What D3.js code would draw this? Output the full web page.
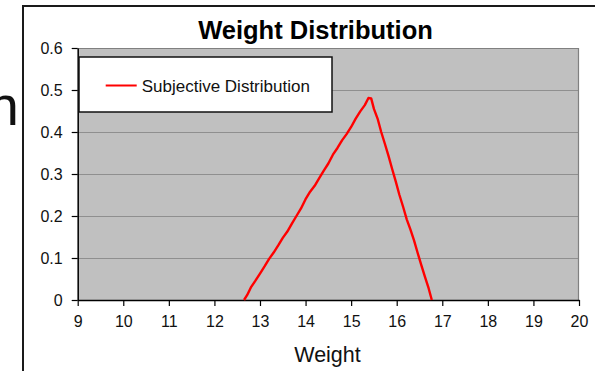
<!DOCTYPE html>
<html>
<head>
<meta charset="utf-8">
<script src="https://cdn.jsdelivr.net/npm/d3@7"></script>
<style>
  html, body { margin: 0; padding: 0; background: #fff; }
  svg { display: block; font-family: "Liberation Sans", Arial, sans-serif; }
</style>
</head>
<body>
<svg id="chart" width="595" height="371"></svg>
<script>
// Subjective weight distribution (triangular shape), read point by point
const weights = [12.65, 12.72, 12.80, 12.90, 13.00, 13.10, 13.20, 13.30, 13.40, 13.50,
                 13.60, 13.70, 13.80, 13.90, 14.00, 14.10, 14.20, 14.30, 14.40, 14.50,
                 14.60, 14.70, 14.80, 14.90, 15.00, 15.10, 15.20, 15.30, 15.38, 15.44,
                 15.50, 15.58, 15.66, 15.74, 15.82, 15.90, 15.98, 16.06, 16.14, 16.22,
                 16.30, 16.38, 16.46, 16.54, 16.62, 16.70, 16.77];
const density = [0.000, 0.012, 0.030, 0.046, 0.063, 0.080, 0.098, 0.113, 0.130, 0.148,
                 0.163, 0.182, 0.200, 0.218, 0.240, 0.258, 0.272, 0.290, 0.308, 0.325,
                 0.346, 0.362, 0.380, 0.395, 0.412, 0.432, 0.449, 0.464, 0.481, 0.480,
                 0.455, 0.432, 0.400, 0.372, 0.343, 0.312, 0.282, 0.250, 0.222, 0.192,
                 0.168, 0.142, 0.112, 0.083, 0.055, 0.028, 0.000];
const seriesName = "Subjective Distribution";
const xTicks = [9, 10, 11, 12, 13, 14, 15, 16, 17, 18, 19, 20];
const yTicks = [0, 0.1, 0.2, 0.3, 0.4, 0.5, 0.6];
const yTickLabels = ["0", "0.1", "0.2", "0.3", "0.4", "0.5", "0.6"];

const svg = d3.select("#chart");
const plot = { left: 77.7, right: 579, top: 48, bottom: 300 };

const x = d3.scaleLinear().domain([9, 20]).range([plot.left, plot.right]);
const y = d3.scaleLinear().domain([0, 0.6]).range([plot.bottom, plot.top]);

// Fragment of the slide text behind the chart
svg.append("text")
  .attr("x", 19).attr("y", 125)
  .attr("text-anchor", "end")
  .attr("font-size", 56)
  .attr("fill", "#111")
  .text("n");

// Chart frame
svg.append("rect")
  .attr("x", 23).attr("y", 6)
  .attr("width", 600).attr("height", 400)
  .attr("fill", "#fff")
  .attr("stroke", "#1a1a1a")
  .attr("stroke-width", 2);

// Plot area
svg.append("rect")
  .attr("x", plot.left).attr("y", plot.top)
  .attr("width", plot.right - plot.left).attr("height", plot.bottom - plot.top)
  .attr("fill", "#c0c0c0");

// Horizontal gridlines
svg.append("g")
  .selectAll("line")
  .data(yTicks.filter(d => d > 0 && d < 0.6))
  .join("line")
  .attr("x1", plot.left).attr("x2", plot.right)
  .attr("y1", d => Math.round(y(d)) + 0.5).attr("y2", d => Math.round(y(d)) + 0.5)
  .attr("stroke", "#8f8f8f")
  .attr("stroke-width", 1);

// Plot area border (top and right)
svg.append("path")
  .attr("d", `M${plot.left},${plot.top + 0.5}H${plot.right - 0.5}V${plot.bottom}`)
  .attr("fill", "none")
  .attr("stroke", "#808080")
  .attr("stroke-width", 1.2);

// Axes
const xAxis = d3.axisBottom(x).tickValues(xTicks).tickFormat(d3.format("d"))
  .tickSizeInner(6).tickSizeOuter(0).tickPadding(6);
const gx = svg.append("g")
  .attr("transform", `translate(0,${plot.bottom})`)
  .call(xAxis);

const yAxis = d3.axisLeft(y).tickValues(yTicks)
  .tickFormat((d, i) => yTickLabels[i])
  .tickSizeInner(6).tickSizeOuter(0).tickPadding(9);
const gy = svg.append("g")
  .attr("transform", `translate(${plot.left},0)`)
  .call(yAxis);

[gx, gy].forEach(g => {
  g.select(".domain").attr("stroke", "#000").attr("stroke-width", 1.5);
  g.selectAll(".tick line").attr("stroke", "#000").attr("stroke-width", 1.2);
  g.selectAll(".tick text")
    .attr("fill", "#111")
    .attr("font-size", 16)
    .attr("font-family", "'Liberation Sans', Arial, sans-serif");
});
gx.selectAll(".tick text").attr("dy", "0.95em");

// Distribution line
const points = weights.map((w, i) => [w, density[i]]);
svg.append("path")
  .datum(points)
  .attr("fill", "none")
  .attr("stroke", "#ff0000")
  .attr("stroke-width", 2.4)
  .attr("stroke-linejoin", "round")
  .attr("d", d3.line().x(d => x(d[0])).y(d => y(d[1])));

// Title
svg.append("text")
  .attr("x", 315.5).attr("y", 39.3)
  .attr("text-anchor", "middle")
  .attr("font-size", 25.5)
  .attr("font-weight", "bold")
  .attr("fill", "#000")
  .text("Weight Distribution");

// Axis title
svg.append("text")
  .attr("x", 327.5).attr("y", 362)
  .attr("text-anchor", "middle")
  .attr("font-size", 21.5)
  .attr("fill", "#111")
  .text("Weight");

// Legend
const legend = svg.append("g");
legend.append("rect")
  .attr("x", 79).attr("y", 57)
  .attr("width", 253).attr("height", 55)
  .attr("fill", "#fff")
  .attr("stroke", "#111")
  .attr("stroke-width", 1.5);
legend.append("line")
  .attr("x1", 105.7).attr("x2", 136.7)
  .attr("y1", 85.5).attr("y2", 85.5)
  .attr("stroke", "#ff0000")
  .attr("stroke-width", 2);
legend.append("text")
  .attr("x", 141.7).attr("y", 91.5)
  .attr("font-size", 17)
  .attr("fill", "#111")
  .text(seriesName);
</script>
</body>
</html>
